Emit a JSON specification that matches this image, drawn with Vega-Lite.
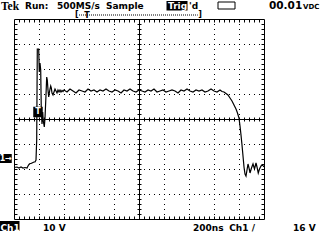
{
  "$schema": "https://vega.github.io/schema/vega-lite/v6.json",
  "width": 250,
  "height": 200,
  "autosize": {"type": "none"},
  "padding": {"left": 14, "top": 19, "right": 56, "bottom": 21},
  "background": "white",
  "config": {
    "view": {"stroke": "black", "strokeWidth": 1},
    "axis": {"labels": false, "domain": false, "grid": false, "ticks": true, "tickColor": "black", "tickWidth": 1, "domainColor": "black", "domainWidth": 1, "gridColor": "black", "gridOpacity": 1, "gridDash": [1, 4], "gridDashOffset": 0.5, "gridWidth": 1},
    "text": {"font": "DejaVu Sans", "fontWeight": "bold", "fontSize": 9}
  },
  "resolve": {"axis": {"x": "independent", "y": "independent"}},
  "layer": [
    {
      "data": {"values": [
        {"t": 0, "v": -19.4}, {"t": 24, "v": -19.2}, {"t": 40, "v": -19.6}, {"t": 56, "v": -19.2}, {"t": 72, "v": -19.6}, {"t": 88, "v": -19.4}, {"t": 104, "v": -19.6},
        {"t": 112, "v": -18.8}, {"t": 120, "v": -18.2}, {"t": 128, "v": -17.8}, {"t": 136, "v": -17.8}, {"t": 144, "v": -17.6}, {"t": 152, "v": -17.4}, {"t": 160, "v": -17.2}, {"t": 168, "v": -17.2}, {"t": 176, "v": -16.4},
        {"t": 181.6, "v": -8.4}, {"t": 186.4, "v": 28}, {"t": 197.6, "v": 28}, {"t": 202.4, "v": 18.8}, {"t": 208, "v": 22.4}, {"t": 213.6, "v": 19.6}, {"t": 218.4, "v": 3.6},
        {"t": 224, "v": -2.0}, {"t": 229.6, "v": 2.8}, {"t": 234.4, "v": -0.8}, {"t": 242.4, "v": -3.2}, {"t": 248, "v": 0.4}, {"t": 256, "v": 9.6}, {"t": 261.6, "v": 16.8},
        {"t": 266.4, "v": 15.6}, {"t": 272, "v": 11.6}, {"t": 277.6, "v": 8.8}, {"t": 282.4, "v": 10.4}, {"t": 288, "v": 12.0}, {"t": 293.6, "v": 13.2}, {"t": 298.4, "v": 12.4},
        {"t": 304, "v": 10.4}, {"t": 312, "v": 9.6}, {"t": 320, "v": 10.8}, {"t": 328, "v": 12.0}, {"t": 336, "v": 11.2}, {"t": 344, "v": 10.4}, {"t": 352, "v": 11.6}, {"t": 360, "v": 10.8},
        {"t": 368, "v": 11.6}, {"t": 376, "v": 10.8}, {"t": 384, "v": 11.4}, {"t": 392, "v": 11.0},
        {"t": 400, "v": 11.6}, {"t": 424, "v": 10.8}, {"t": 448, "v": 12.0}, {"t": 472, "v": 11.2}, {"t": 496, "v": 10.4}, {"t": 520, "v": 11.6}, {"t": 544, "v": 11.2}, {"t": 568, "v": 10.8},
        {"t": 592, "v": 12.0}, {"t": 616, "v": 11.2}, {"t": 640, "v": 11.6}, {"t": 664, "v": 10.8}, {"t": 688, "v": 11.6}, {"t": 712, "v": 11.2}, {"t": 736, "v": 12.0}, {"t": 760, "v": 11.2},
        {"t": 784, "v": 10.8}, {"t": 808, "v": 11.6}, {"t": 832, "v": 11.2}, {"t": 856, "v": 10.4}, {"t": 880, "v": 11.6}, {"t": 904, "v": 11.2}, {"t": 928, "v": 12.0}, {"t": 952, "v": 11.2},
        {"t": 976, "v": 10.8}, {"t": 1000, "v": 11.6}, {"t": 1024, "v": 11.2}, {"t": 1048, "v": 10.8}, {"t": 1072, "v": 11.6}, {"t": 1096, "v": 11.2}, {"t": 1120, "v": 12.0}, {"t": 1144, "v": 10.8},
        {"t": 1168, "v": 11.2}, {"t": 1192, "v": 11.6}, {"t": 1216, "v": 10.8}, {"t": 1240, "v": 11.2}, {"t": 1264, "v": 11.6}, {"t": 1288, "v": 11.2}, {"t": 1312, "v": 10.4}, {"t": 1336, "v": 11.6},
        {"t": 1360, "v": 11.2}, {"t": 1384, "v": 12.0}, {"t": 1408, "v": 11.2}, {"t": 1432, "v": 10.8}, {"t": 1456, "v": 11.6}, {"t": 1480, "v": 11.2}, {"t": 1504, "v": 11.6}, {"t": 1528, "v": 10.8},
        {"t": 1552, "v": 11.2}, {"t": 1576, "v": 12.0}, {"t": 1600, "v": 11.2}, {"t": 1624, "v": 10.8}, {"t": 1648, "v": 11.6},
        {"t": 1664, "v": 11.0}, {"t": 1680, "v": 10.8}, {"t": 1696, "v": 10.2}, {"t": 1712, "v": 9.6}, {"t": 1728, "v": 8.4}, {"t": 1744, "v": 7.2}, {"t": 1760, "v": 5.6}, {"t": 1776, "v": 4.0},
        {"t": 1788, "v": 2.4}, {"t": 1800, "v": 0.4}, {"t": 1808, "v": -2.8}, {"t": 1816, "v": -6.4}, {"t": 1824, "v": -10.4}, {"t": 1832, "v": -14.8}, {"t": 1840, "v": -19.2}, {"t": 1848, "v": -22.0},
        {"t": 1856, "v": -22.8}, {"t": 1864, "v": -20.4}, {"t": 1872, "v": -18.0}, {"t": 1880, "v": -19.6}, {"t": 1888, "v": -21.6}, {"t": 1900, "v": -19.6}, {"t": 1912, "v": -18.0}, {"t": 1924, "v": -20.0},
        {"t": 1936, "v": -17.6}, {"t": 1944, "v": -19.2}, {"t": 1954, "v": -21.6}, {"t": 1964, "v": -20.0}, {"t": 1976, "v": -18.8}, {"t": 1988, "v": -18.4}, {"t": 2000, "v": -19.2}
      ]},
      "mark": {"type": "line", "color": "black", "strokeWidth": 1.2},
      "encoding": {
        "x": {"field": "t", "type": "quantitative", "scale": {"domain": [0, 2000], "nice": false, "zero": false},
              "axis": {"orient": "bottom", "title": null, "tickSize": -3, "values": [40,80,120,160,200,240,280,320,360,400,440,480,520,560,600,640,680,720,760,800,840,880,920,960,1000,1040,1080,1120,1160,1200,1240,1280,1320,1360,1400,1440,1480,1520,1560,1600,1640,1680,1720,1760,1800,1840,1880,1920,1960]}},
        "y": {"field": "v", "type": "quantitative", "scale": {"domain": [-40, 40], "nice": false, "zero": false},
              "axis": {"orient": "left", "title": null, "tickSize": -3, "values": [-38,-36,-34,-32,-30,-28,-26,-24,-22,-20,-18,-16,-14,-12,-10,-8,-6,-4,-2,0,2,4,6,8,10,12,14,16,18,20,22,24,26,28,30,32,34,36,38]}}
      }
    },
    {
      "data": {"values": [
        {"t": 1220, "t2": 1388, "v": 47.2, "v2": 43.4},
        {"t": -112, "t2": 44, "v": -40.8, "v2": -44.8},
        {"t": -112, "t2": -18, "v": -14.0, "v2": -17.6},
        {"t": 154, "t2": 230, "v": 4.9, "v2": 0.7}
      ]},
      "mark": {"type": "rect", "color": "black"},
      "encoding": {
        "x": {"field": "t", "type": "quantitative", "scale": {"domain": [0, 2000], "nice": false, "zero": false},
              "axis": {"orient": "top", "title": null, "tickSize": -3, "values": [40,80,120,160,200,240,280,320,360,400,440,480,520,560,600,640,680,720,760,800,840,880,920,960,1000,1040,1080,1120,1160,1200,1240,1280,1320,1360,1400,1440,1480,1520,1560,1600,1640,1680,1720,1760,1800,1840,1880,1920,1960]}},
        "x2": {"field": "t2"},
        "y": {"field": "v", "type": "quantitative", "scale": {"domain": [-40, 40], "nice": false, "zero": false},
              "axis": {"orient": "right", "title": null, "tickSize": -3, "values": [-38,-36,-34,-32,-30,-28,-26,-24,-22,-20,-18,-16,-14,-12,-10,-8,-6,-4,-2,0,2,4,6,8,10,12,14,16,18,20,22,24,26,28,30,32,34,36,38]}},
        "y2": {"field": "v2"}
      }
    },
    {
      "data": {"values": [
        {"t": 88, "v": 44, "label": "Run:"},
        {"t": 344, "v": 44, "label": "500MS/s"},
        {"t": 736, "v": 44, "label": "Sample"},
        {"t": 1400, "v": 44, "label": "'d"},
        {"t": 232, "v": -44.6, "label": "10 V"},
        {"t": 1432, "v": -44.6, "label": "200ns"},
        {"t": 1722, "v": -44.6, "label": "Ch1 /"},
        {"t": 2232, "v": -44.6, "label": "16 V"}
      ]},
      "mark": {"type": "text", "align": "left", "baseline": "alphabetic", "color": "black"},
      "encoding": {
        "x": {"field": "t", "type": "quantitative", "scale": {"domain": [0, 2000], "nice": false, "zero": false},
              "axis": {"orient": "bottom", "title": null, "ticks": false, "grid": true, "values": [200,400,600,800,1200,1400,1600,1800]}},
        "y": {"field": "v", "type": "quantitative", "scale": {"domain": [-40, 40], "nice": false, "zero": false},
              "axis": {"orient": "left", "title": null, "ticks": false, "grid": true, "values": [-30,-20,-10,10,20,30]}},
        "text": {"field": "label"}
      }
    },
    {
      "data": {"values": [{"t": 520, "t2": 1470, "v": 41.6}]},
      "mark": {"type": "rule", "color": "black", "strokeDash": [1, 1]},
      "encoding": {
        "x": {"field": "t", "type": "quantitative", "scale": {"domain": [0, 2000], "nice": false, "zero": false},
              "axis": {"orient": "bottom", "offset": -100, "domain": true, "title": null, "tickSize": 2, "values": [40,80,120,160,200,240,280,320,360,400,440,480,520,560,600,640,680,720,760,800,840,880,920,960,1000,1040,1080,1120,1160,1200,1240,1280,1320,1360,1400,1440,1480,1520,1560,1600,1640,1680,1720,1760,1800,1840,1880,1920,1960]}},
        "x2": {"field": "t2"},
        "y": {"field": "v", "type": "quantitative", "scale": {"domain": [-40, 40], "nice": false, "zero": false},
              "axis": {"orient": "left", "offset": -125, "domain": true, "title": null, "tickSize": 2, "values": [-38,-36,-34,-32,-30,-28,-26,-24,-22,-20,-18,-16,-14,-12,-10,-8,-6,-4,-2,0,2,4,6,8,10,12,14,16,18,20,22,24,26,28,30,32,34,36,38]}}
      }
    },
    {
      "data": {"values": [{"t": 1632, "t2": 1768, "v": 46.8, "v2": 44.0}]},
      "mark": {"type": "rect", "fill": null, "fillOpacity": 0, "stroke": "black", "strokeWidth": 1},
      "encoding": {
        "x": {"field": "t", "type": "quantitative", "scale": {"domain": [0, 2000], "nice": false, "zero": false},
              "axis": {"orient": "top", "offset": -100, "title": null, "tickSize": 2, "values": [40,80,120,160,200,240,280,320,360,400,440,480,520,560,600,640,680,720,760,800,840,880,920,960,1000,1040,1080,1120,1160,1200,1240,1280,1320,1360,1400,1440,1480,1520,1560,1600,1640,1680,1720,1760,1800,1840,1880,1920,1960]}},
        "x2": {"field": "t2"},
        "y": {"field": "v", "type": "quantitative", "scale": {"domain": [-40, 40], "nice": false, "zero": false},
              "axis": {"orient": "right", "offset": -125, "title": null, "tickSize": 2, "values": [-38,-36,-34,-32,-30,-28,-26,-24,-22,-20,-18,-16,-14,-12,-10,-8,-6,-4,-2,0,2,4,6,8,10,12,14,16,18,20,22,24,26,28,30,32,34,36,38]}},
        "y2": {"field": "v2"}
      }
    },
    {
      "data": {"values": [
        {"t": 488, "v": 40.8, "label": "["},
        {"t": 1474, "v": 40.8, "label": "]"},
        {"t": 562, "v": 40.6, "label": "T"}
      ]},
      "mark": {"type": "text", "align": "left", "baseline": "alphabetic", "color": "black", "fontSize": 8},
      "encoding": {
        "x": {"field": "t", "type": "quantitative", "scale": {"domain": [0, 2000], "nice": false, "zero": false}, "axis": null},
        "y": {"field": "v", "type": "quantitative", "scale": {"domain": [-40, 40], "nice": false, "zero": false}, "axis": null},
        "text": {"field": "label"}
      }
    },
    {
      "data": {"values": [
        {"t": 1232, "v": 44, "label": "Trig"},
        {"t": -108, "v": -44.6, "label": "Ch1"}
      ]},
      "mark": {"type": "text", "align": "left", "baseline": "alphabetic", "color": "white"},
      "encoding": {
        "x": {"field": "t", "type": "quantitative", "scale": {"domain": [0, 2000], "nice": false, "zero": false}, "axis": null},
        "y": {"field": "v", "type": "quantitative", "scale": {"domain": [-40, 40], "nice": false, "zero": false}, "axis": null},
        "text": {"field": "label"}
      }
    },
    {
      "data": {"values": [
        {"t": 192, "v": 2.8, "label": "T"},
        {"t": -65, "v": -15.8, "label": "1→"}
      ]},
      "mark": {"type": "text", "align": "center", "baseline": "middle", "color": "white", "fontSize": 8},
      "encoding": {
        "x": {"field": "t", "type": "quantitative", "scale": {"domain": [0, 2000], "nice": false, "zero": false}, "axis": null},
        "y": {"field": "v", "type": "quantitative", "scale": {"domain": [-40, 40], "nice": false, "zero": false}, "axis": null},
        "text": {"field": "label"}
      }
    },
    {
      "data": {"values": [{"t": -104, "v": 43.8, "label": "Tek"}]},
      "mark": {"type": "text", "align": "left", "baseline": "alphabetic", "color": "black", "font": "Liberation Serif", "fontSize": 11.5},
      "encoding": {
        "x": {"field": "t", "type": "quantitative", "scale": {"domain": [0, 2000], "nice": false, "zero": false}, "axis": null},
        "y": {"field": "v", "type": "quantitative", "scale": {"domain": [-40, 40], "nice": false, "zero": false}, "axis": null},
        "text": {"field": "label"}
      }
    },
    {
      "data": {"values": [{"t": 2040, "v": 44, "label": "00.01"}]},
      "mark": {"type": "text", "align": "left", "baseline": "alphabetic", "color": "black", "fontSize": 10.5},
      "encoding": {
        "x": {"field": "t", "type": "quantitative", "scale": {"domain": [0, 2000], "nice": false, "zero": false}, "axis": null},
        "y": {"field": "v", "type": "quantitative", "scale": {"domain": [-40, 40], "nice": false, "zero": false}, "axis": null},
        "text": {"field": "label"}
      }
    },
    {
      "data": {"values": [{"t": 2312, "v": 44, "label": "VDC"}]},
      "mark": {"type": "text", "align": "left", "baseline": "alphabetic", "color": "black", "fontSize": 7},
      "encoding": {
        "x": {"field": "t", "type": "quantitative", "scale": {"domain": [0, 2000], "nice": false, "zero": false}, "axis": null},
        "y": {"field": "v", "type": "quantitative", "scale": {"domain": [-40, 40], "nice": false, "zero": false}, "axis": null},
        "text": {"field": "label"}
      }
    }
  ]
}
